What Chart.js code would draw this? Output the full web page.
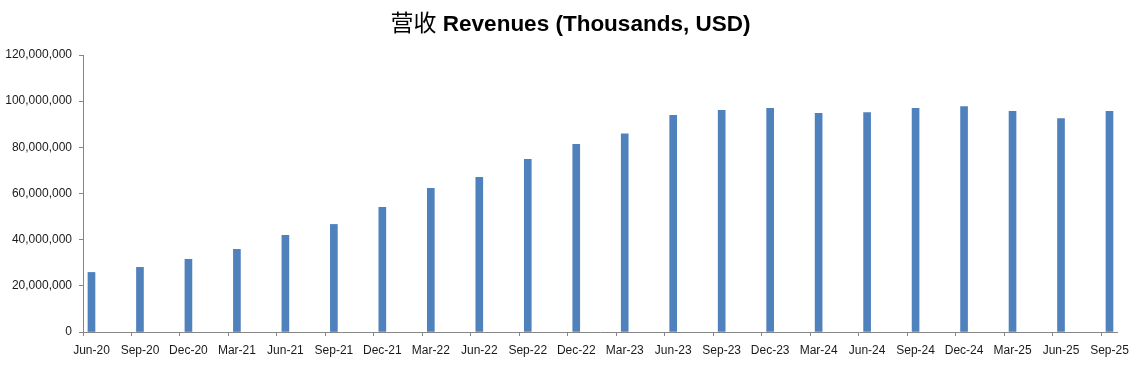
<!DOCTYPE html>
<html>
<head>
<meta charset="utf-8">
<script src="https://cdn.jsdelivr.net/npm/chart.js@4/dist/chart.umd.min.js"></script>
<style>
  html, body { margin: 0; padding: 0; background: #fff; }
  #wrap { position: relative; width: 1141px; height: 367px; }
  #title { position: absolute; left: 0; top: 5px; width: 1141px; text-align: center; white-space: nowrap;
           font-size: 22.5px; line-height: 32px; color: #000; }
  #title .zh { font-family: "Noto Sans CJK SC", sans-serif; font-weight: 400; font-size: 23px; }
  #title .en { font-family: "Liberation Sans", Arial, sans-serif; font-weight: bold; }
  canvas { position: absolute; left: 0; top: 0; }
</style>
</head>
<body>
<div id="wrap">
  <canvas id="c" width="1141" height="367"></canvas>
  <div id="title"><span class="zh">营收</span><span class="en"> Revenues (Thousands, USD)</span></div>
</div>
<script>
const categories = ["Jun-20","Sep-20","Dec-20","Mar-21","Jun-21","Sep-21","Dec-21","Mar-22","Jun-22","Sep-22","Dec-22",
                    "Mar-23","Jun-23","Sep-23","Dec-23","Mar-24","Jun-24","Sep-24","Dec-24","Mar-25","Jun-25","Sep-25"];
const revenues = [25800000, 28000000, 31500000, 35800000, 41900000, 46600000, 54000000, 62200000, 67000000, 74800000, 81300000,
                  85900000, 93900000, 96000000, 96900000, 94700000, 95100000, 96900000, 97700000, 95600000, 92500000, 95600000];
const yMin = 0, yMax = 120000000, yStep = 20000000;

const AXIS = '#868686';
const TEXT = '#1a1a1a';
const tickShift = 0.175; // tick marks sit slightly left of each bar

const ctx = document.getElementById('c');
new Chart(ctx, {
  type: 'bar',
  data: {
    datasets: [{
      data: revenues.map((v, i) => ({ x: i, y: v })),
      backgroundColor: '#4F81BD',
      borderWidth: 0,
      barThickness: 7
    }]
  },
  options: {
    responsive: false,
    animation: false,
    layout: { padding: { top: 55, right: 24, left: 0, bottom: 0 } },
    plugins: { legend: { display: false }, title: { display: false }, tooltip: { enabled: false } },
    scales: {
      x: {
        type: 'linear',
        offset: false,
        min: -tickShift,
        max: categories.length - 1 + 0.155,
        afterBuildTicks: (s) => { s.ticks = categories.map((_, i) => ({ value: i - tickShift })); },
        afterFit: (s) => { s.height = 35; },
        grid: { display: true, offset: false, drawOnChartArea: false, drawTicks: true, tickLength: 4, color: AXIS, lineWidth: 1 },
        border: { display: true, color: AXIS, width: 1 },
        ticks: {
          autoSkip: false, maxRotation: 0, minRotation: 0,
          labelOffset: 8.5,
          padding: 7,
          color: TEXT,
          font: { family: '"Liberation Sans", Arial, sans-serif', size: 12 },
          callback: (v, idx) => categories[idx]
        }
      },
      y: {
        min: yMin, max: yMax,
        afterFit: (s) => { s.width = 83; },
        grid: { display: true, drawOnChartArea: false, drawTicks: true, tickLength: 4, color: AXIS },
        border: { display: true, color: AXIS, width: 1 },
        ticks: {
          stepSize: yStep,
          padding: 7,
          color: TEXT,
          font: { family: '"Liberation Sans", Arial, sans-serif', size: 12 },
          callback: (v) => v.toLocaleString('en-US')
        }
      }
    }
  }
});
</script>
</body>
</html>
